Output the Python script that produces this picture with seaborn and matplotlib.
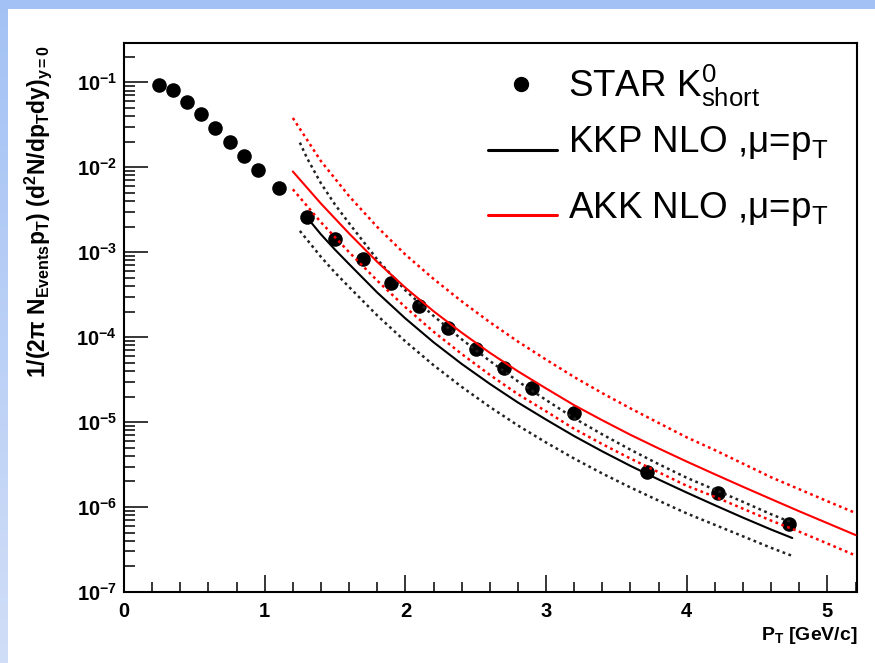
import numpy as np
import matplotlib
matplotlib.use("Agg")
import matplotlib.pyplot as plt
import seaborn as sns
from matplotlib.lines import Line2D
from matplotlib.ticker import LogLocator, MultipleLocator, NullFormatter, FixedLocator, FixedFormatter

# ---------------- data ----------------
star_pt = [0.25, 0.35, 0.45, 0.55, 0.65, 0.75, 0.85, 0.95, 1.1, 1.3, 1.5, 1.7,
           1.9, 2.1, 2.3, 2.5, 2.7, 2.9, 3.2, 3.72, 4.22, 4.73]
star_y = [0.094, 0.082, 0.059, 0.042, 0.0292, 0.0198, 0.0137, 0.00935, 0.00563,
          0.00263, 0.00144, 8.34e-4, 4.31e-4, 2.33e-4, 1.28e-4, 7.3e-5, 4.3e-5,
          2.5e-5, 1.29e-5, 2.6e-6, 1.48e-6, 6.3e-7]

akk_pt = [1.2, 1.4, 1.6, 1.8, 2.0, 2.2, 2.4, 2.6, 2.8, 3.0, 3.2, 3.4, 3.6, 3.8,
          4.0, 4.2, 4.4, 4.6, 4.8, 5.0, 5.2]
akk_central = [8.91e-3, 3.73e-3, 1.66e-3, 7.69e-4, 3.82e-4, 2.02e-4, 1.13e-4,
               6.55e-5, 3.96e-5, 2.49e-5, 1.58e-5, 1.05e-5, 7.08e-6, 4.90e-6,
               3.43e-6, 2.43e-6, 1.73e-6, 1.24e-6, 8.91e-7, 6.46e-7, 4.68e-7]
akk_upper = [3.80e-2, 1.18e-2, 4.57e-3, 1.98e-3, 9.38e-4, 4.85e-4, 2.64e-4,
             1.50e-4, 8.87e-5, 5.44e-5, 3.39e-5, 2.19e-5, 1.45e-5, 9.77e-6,
             6.61e-6, 4.68e-6, 3.24e-6, 2.24e-6, 1.62e-6, 1.17e-6, 8.51e-7]
akk_lower = [5.50e-3, 2.25e-3, 1.00e-3, 4.63e-4, 2.25e-4, 1.16e-4, 6.34e-5,
             3.60e-5, 2.13e-5, 1.34e-5, 8.32e-6, 5.50e-6, 3.72e-6, 2.57e-6,
             1.78e-6, 1.32e-6, 9.55e-7, 6.92e-7, 5.13e-7, 3.72e-7, 2.69e-7]

kkp_pt = [1.3, 1.4, 1.5, 1.6, 1.8, 2.0, 2.2, 2.4, 2.6, 2.8, 3.0, 3.2, 3.4, 3.6,
          3.8, 4.0, 4.2, 4.4, 4.6, 4.75]
kkp_central = [2.57e-3, 1.62e-3, 1.07e-3, 7.24e-4, 3.35e-4, 1.66e-4, 8.71e-5,
               4.84e-5, 2.82e-5, 1.70e-5, 1.07e-5, 6.84e-6, 4.52e-6, 3.05e-6,
               2.11e-6, 1.48e-6, 1.05e-6, 7.50e-7, 5.43e-7, 4.32e-7]

kkp_band_pt = [1.25, 1.3, 1.4, 1.5, 1.6, 1.8, 2.0, 2.2, 2.4, 2.6, 2.8, 3.0, 3.2,
               3.4, 3.6, 3.8, 4.0, 4.2, 4.4, 4.6, 4.75]
kkp_upper = [1.95e-2, 1.29e-2, 6.46e-3, 3.63e-3, 2.19e-3, 8.22e-4, 3.55e-4,
             1.78e-4, 9.44e-5, 5.25e-5, 3.02e-5, 1.82e-5, 1.11e-5, 7.16e-6,
             4.73e-6, 3.20e-6, 2.21e-6, 1.60e-6, 1.15e-6, 8.22e-7, 6.53e-7]
kkp_lower = [1.78e-3, 1.41e-3, 8.81e-4, 5.75e-4, 3.89e-4, 1.80e-4, 8.91e-5,
             4.68e-5, 2.60e-5, 1.51e-5, 9.12e-6, 5.75e-6, 3.72e-6, 2.48e-6,
             1.70e-6, 1.19e-6, 8.41e-7, 6.17e-7, 4.52e-7, 3.31e-7, 2.66e-7]

x_ticks = [0, 1, 2, 3, 4, 5]
y_ticks = [1e-7, 1e-6, 1e-5, 1e-4, 1e-3, 1e-2, 1e-1]
y_tick_labels = [r"$\mathbf{10^{-7}}$", r"$\mathbf{10^{-6}}$", r"$\mathbf{10^{-5}}$",
                 r"$\mathbf{10^{-4}}$", r"$\mathbf{10^{-3}}$", r"$\mathbf{10^{-2}}$",
                 r"$\mathbf{10^{-1}}$"]

legend_labels = [r"STAR $K^{0}_{short}$", r"KKP NLO ,$\mu$=p$_{T}$", r"AKK NLO ,$\mu$=p$_{T}$"]

# ---------------- style ----------------
sns.set_theme(style="white")
plt.rcParams["font.family"] = ["Liberation Sans", "DejaVu Sans"]
plt.rcParams["mathtext.fontset"] = "custom"
plt.rcParams["mathtext.rm"] = "Liberation Sans"
plt.rcParams["mathtext.it"] = "Liberation Sans"
plt.rcParams["mathtext.bf"] = "Liberation Sans:bold"
plt.rcParams["mathtext.default"] = "regular"
plt.rcParams["text.color"] = "black"

W, H = 875, 663
fig = plt.figure(figsize=(W / 100, H / 100), dpi=100)
fig.patch.set_facecolor("white")

# background frame (light-blue bands on top and left)
bg = fig.add_axes([0, 0, 1, 1], zorder=-10)
img = np.ones((H, W, 3))
top_c = np.array([0.64, 0.76, 0.96])
bot_c = np.array([0.82, 0.87, 0.97])
t = np.linspace(0, 1, H)[:, None]
img[:, :8, :] = (top_c * (1 - t) + bot_c * t)[:, None, :]
img[:9, :, :] = top_c
bg.imshow(img, aspect="auto", extent=[0, 1, 0, 1], interpolation="nearest")
bg.axis("off")

ax_l, ax_r, ax_t, ax_b = 124, 857, 43, 592
ax = fig.add_axes([ax_l / W, 1 - ax_b / H, (ax_r - ax_l) / W, (ax_b - ax_t) / H])
ax.set_facecolor("white")
ax.set_yscale("log")

dot = (0, (1.1, 1.4))
lw_solid = 1.5
lw_dot = 1.8

sns.scatterplot(x=star_pt, y=star_y, ax=ax, color="black", s=110, linewidth=0,
                zorder=2, legend=False)
sns.lineplot(x=kkp_pt, y=kkp_central, ax=ax, color="black", lw=lw_solid,
             estimator=None, sort=False, zorder=3)
sns.lineplot(x=kkp_band_pt, y=kkp_upper, ax=ax, color="#222222", lw=lw_dot,
             linestyle=dot, estimator=None, sort=False, zorder=3)
sns.lineplot(x=kkp_band_pt, y=kkp_lower, ax=ax, color="#222222", lw=lw_dot,
             linestyle=dot, estimator=None, sort=False, zorder=3)
sns.lineplot(x=akk_pt, y=akk_central, ax=ax, color="#ff0000", lw=lw_solid,
             estimator=None, sort=False, zorder=4)
sns.lineplot(x=akk_pt, y=akk_upper, ax=ax, color="#ff0000", lw=lw_dot,
             linestyle=dot, estimator=None, sort=False, zorder=4)
sns.lineplot(x=akk_pt, y=akk_lower, ax=ax, color="#ff0000", lw=lw_dot,
             linestyle=dot, estimator=None, sort=False, zorder=4)

ax.set_xlim(0, 5.21)
ax.set_ylim(1e-7, 0.29)

ax.xaxis.set_major_locator(FixedLocator(x_ticks))
ax.set_xticklabels([str(v) for v in x_ticks], fontsize=14.5, fontweight="bold")
ax.xaxis.set_minor_locator(MultipleLocator(0.2))
ax.yaxis.set_major_locator(FixedLocator(y_ticks))
ax.yaxis.set_major_formatter(FixedFormatter(y_tick_labels))
ax.yaxis.set_minor_locator(LogLocator(base=10, subs=np.arange(2, 10), numticks=30))
ax.yaxis.set_minor_formatter(NullFormatter())
for lab in ax.get_yticklabels():
    lab.set_fontsize(14.5)

ax.tick_params(axis="both", which="both", direction="in", color="black",
               labelcolor="black", bottom=True, left=True, top=False, right=False)
ax.tick_params(axis="y", which="major", length=17, width=1.1, pad=5)
ax.tick_params(axis="y", which="minor", length=8, width=1.1)
ax.tick_params(axis="x", which="major", length=12, width=1.1, pad=7)
ax.tick_params(axis="x", which="minor", length=7, width=1.1)
for sp in ax.spines.values():
    sp.set_color("black")
    sp.set_linewidth(1.5)
ax.set_xlabel("")
ax.set_ylabel("")

# axis titles
fig.text(858 / W, 1 - 636 / H, r"P$_{\mathbf{T}}$ [GeV/c]", fontsize=14,
         fontweight="bold", ha="right", va="center")
fig.text(38 / W, 1 - 211 / H,
         r"1/(2π N$_{\mathbf{Events}}$p$_{\mathbf{T}}$) (d$^{\mathbf{2}}$N/dp$_{\mathbf{T}}$dy)$_{\mathbf{y=0}}$",
         fontsize=16.5, fontweight="bold", rotation=90, ha="center", va="center")

# legend (drawn by hand, no frame)
fig.add_artist(Line2D([521 / W], [1 - 84 / H], marker="o", ms=10, color="black",
                      linestyle="none", transform=fig.transFigure))
fig.add_artist(Line2D([488 / W, 557 / W], [1 - 150 / H] * 2, color="black", lw=2.2,
                      transform=fig.transFigure))
fig.add_artist(Line2D([488 / W, 557 / W], [1 - 215 / H] * 2, color="#ff0000", lw=2.2,
                      transform=fig.transFigure))
for lab, yb in zip(legend_labels, [96.7, 151.7, 218.3]):
    fig.text(568 / W, 1 - yb / H, lab, fontsize=26.5, ha="left", va="baseline")

fig.savefig("out.png", dpi=100)
